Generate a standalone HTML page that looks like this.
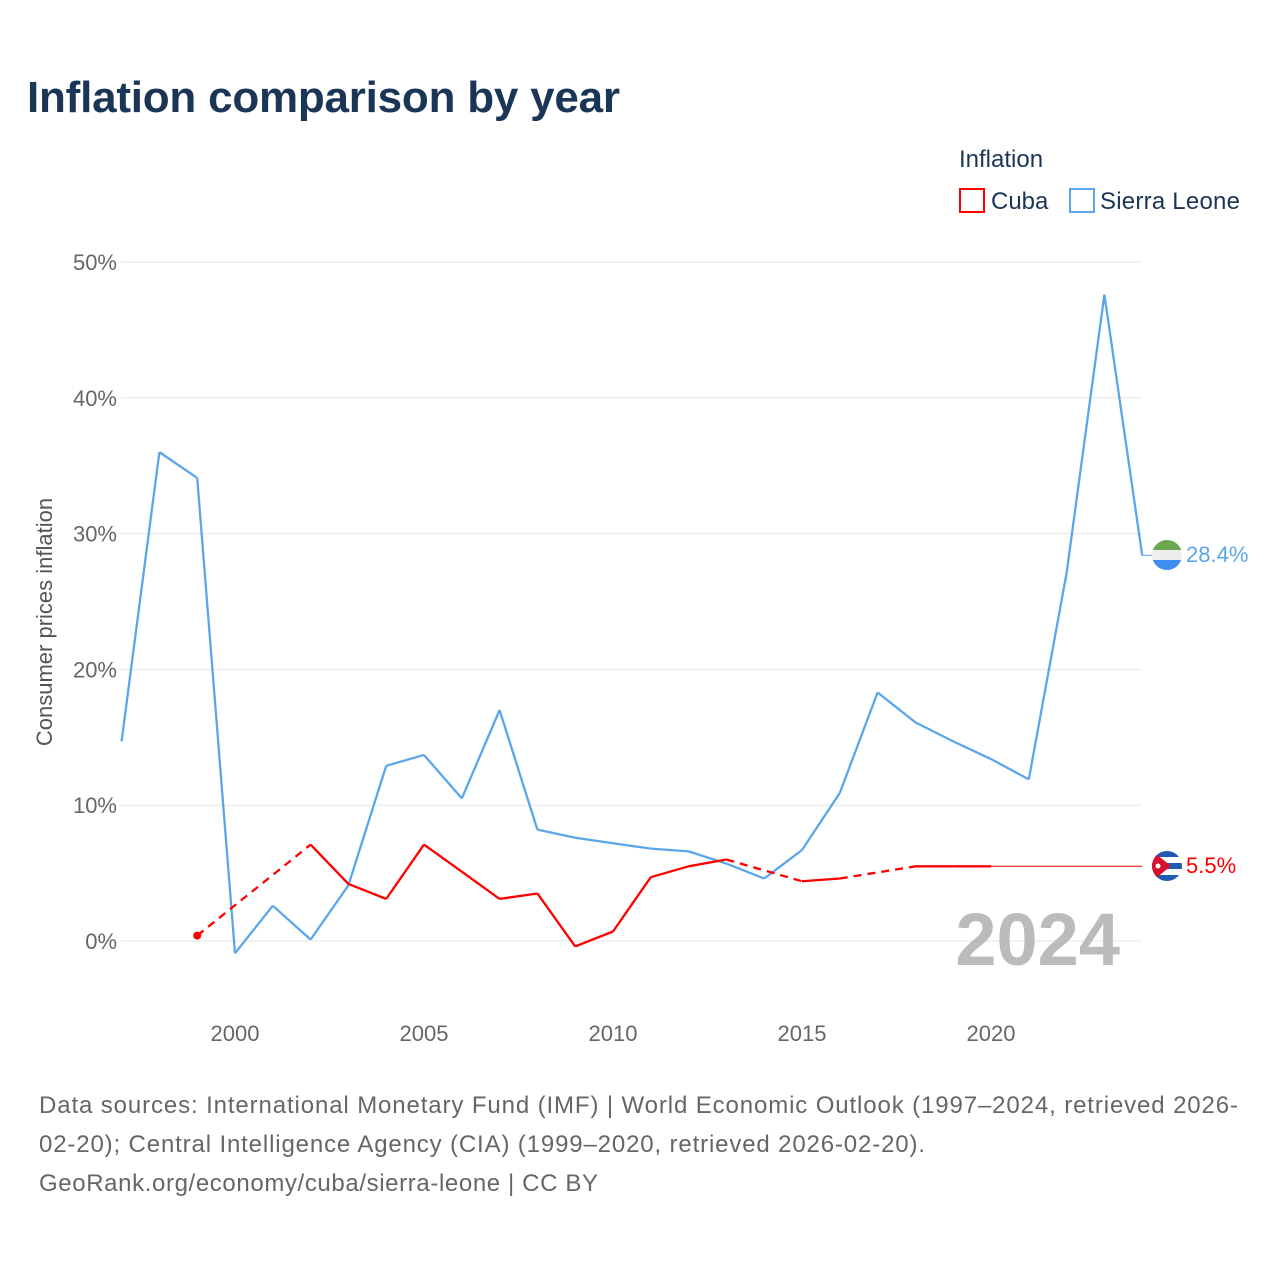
<!DOCTYPE html>
<html><head><meta charset="utf-8"><style>
body{margin:0;background:#fff;width:1280px;height:1280px;overflow:hidden;font-family:"Liberation Sans",sans-serif}
</style></head><body>
<svg width="1280" height="1280" xmlns="http://www.w3.org/2000/svg" font-family="Liberation Sans, sans-serif">
<text x="27" y="112" font-size="44" font-weight="bold" fill="#1b3557" textLength="593">Inflation comparison by year</text>
<text x="959" y="167" font-size="24" fill="#1b3557">Inflation</text>
<g><rect x="960" y="189" width="24" height="23" fill="none" stroke="#f00" stroke-width="2"/><text x="991" y="209" font-size="24" fill="#1b3557">Cuba</text></g>
<g><rect x="1070" y="189" width="24" height="23" fill="none" stroke="#5ba6ea" stroke-width="2"/><text x="1100" y="209" font-size="24" fill="#1b3557" textLength="140">Sierra Leone</text></g>
<g id="grid"></g><g id="xt"></g><g id="lines"></g>
<text x="52" y="622" font-size="22" fill="#555" transform="rotate(-90 52 622)" text-anchor="middle">Consumer prices inflation</text>
<text x="1120" y="965" font-size="74" font-weight="bold" fill="#bbb" text-anchor="end">2024</text>
<g>
<clipPath id="c1"><circle cx="1167" cy="555" r="15"/></clipPath>
<g clip-path="url(#c1)"><rect x="1151" y="539" width="32" height="11" fill="#6aa84f"/><rect x="1151" y="550" width="32" height="10" fill="#eee"/><rect x="1151" y="560" width="32" height="11" fill="#3f8ef0"/></g></g>
<text x="1186" y="562" font-size="22" fill="#5ba6ea">28.4%</text>
<g>
<clipPath id="c2"><circle cx="1167" cy="866" r="15"/></clipPath>
<g clip-path="url(#c2)"><rect x="1151" y="850" width="32" height="32" fill="#fff"/><rect x="1151" y="851" width="32" height="6" fill="#1f5bb5"/><rect x="1151" y="863" width="32" height="6" fill="#1f5bb5"/><rect x="1151" y="875" width="32" height="7" fill="#1f5bb5"/><polygon points="1151,850 1171,866 1151,882" fill="#d8102c"/><circle cx="1158" cy="866" r="2.5" fill="#fff"/></g></g>
<text x="1186" y="873" font-size="22" fill="#f00">5.5%</text>
<text font-size="24" fill="#666"><tspan x="39" y="1113" textLength="1199">Data sources: International Monetary Fund (IMF) | World Economic Outlook (1997–2024, retrieved 2026-</tspan><tspan x="39" y="1152" textLength="886">02-20); Central Intelligence Agency (CIA) (1999–2020, retrieved 2026-02-20).</tspan><tspan x="39" y="1191" textLength="559">GeoRank.org/economy/cuba/sierra-leone | CC BY</tspan></text>
</svg>
<script>
const years=[1997,1998,1999,2000,2001,2002,2003,2004,2005,2006,2007,2008,2009,2010,2011,2012,2013,2014,2015,2016,2017,2018,2019,2020,2021,2022,2023,2024];
const sierraLeone=[14.7,36.0,34.1,-0.9,2.6,0.1,4.1,12.9,13.7,10.5,17.0,8.2,7.6,7.2,6.8,6.6,5.7,4.6,6.7,10.9,18.3,16.1,14.7,13.4,11.9,27.1,47.6,28.4];
const cuba=[null,null,0.4,null,null,7.1,4.2,3.1,7.1,5.1,3.1,3.5,-0.4,0.7,4.7,5.5,6.0,null,4.4,4.6,null,5.5,5.5,5.5,null,null,null,5.5];
const yTicks=[0,10,20,30,40,50];
const xTicks=[2000,2005,2010,2015,2020];
const X=y=>121.6+(y-1997)*37.8, Y=v=>941-v*13.58;
const NS='http://www.w3.org/2000/svg';
function mk(t,a,p){const e=document.createElementNS(NS,t);for(const k in a)e.setAttribute(k,a[k]);document.getElementById(p).appendChild(e);return e;}
yTicks.forEach(v=>{
 const l=mk('line',{x1:121,x2:1142,y1:Y(v),y2:Y(v),stroke:'#e6e6e6','stroke-width':1},'grid');
 
 
 const t=mk('text',{x:117,y:Y(v)+8,'font-size':22,fill:'#666','text-anchor':'end'},'grid');t.textContent=v+'%';
 
 
});
xTicks.forEach(v=>{
 const t=mk('text',{x:X(v),y:1041,'font-size':22,fill:'#666','text-anchor':'middle'},'xt');t.textContent=v;
 
 
});
function series(vals,color,name,w){
 let prev=-1;
 for(let i=0;i<vals.length;i++){
  if(vals[i]==null)continue;
  if(prev>=0){
   const gap=i-prev>1;
   const isLast=name==='cuba'&&i===vals.length-1&&gap;
   const a={x1:X(years[prev]),y1:Y(vals[prev]),x2:X(years[i]),y2:Y(vals[i]),stroke:color,'stroke-width':isLast?1:w,fill:'none'};
   if(gap&&!isLast)a['stroke-dasharray']='8,6';
   const l=mk('line',a,'lines');
   
   
  }
  prev=i;
 }
}
series(sierraLeone,'#5ba6ea','sierra-leone',2.3);
series(cuba,'#f00','cuba',2.3);
const f=cuba.findIndex(v=>v!=null);
const d=mk('circle',{cx:X(years[f]),cy:Y(cuba[f]),r:4,fill:'#f00'},'lines');


const c=mk('line',{x1:1142,y1:Y(28.4),x2:1153,y2:Y(28.4),stroke:'#5ba6ea','stroke-width':1},'lines');


</script>
</body></html>
